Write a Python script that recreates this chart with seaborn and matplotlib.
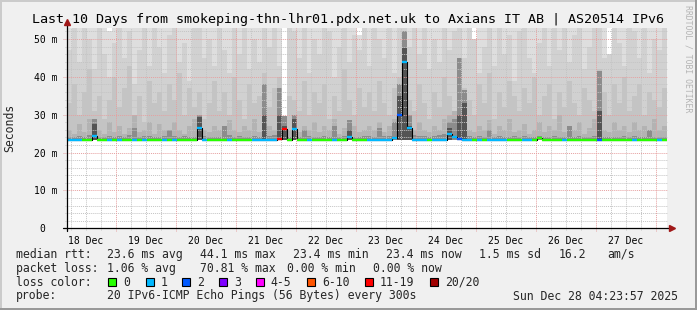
import numpy as np
import pandas as pd
import matplotlib
matplotlib.use("Agg")
import matplotlib.pyplot as plt
import matplotlib.dates as mdates
from matplotlib.patches import Rectangle
from matplotlib.lines import Line2D
import seaborn as sns

# ---------------- data ----------------
start_time = "2025-12-18 04:23:57"
bin_hours = 2          # 120 bins over 10 days
title = "Last 10 Days from smokeping-thn-lhr01.pdx.net.uk to Axians IT AB | AS20514 IPv6"

median_ms = [
    23.4, 23.4, 23.4, 23.4, 23.4, 24.3, 23.4, 23.4, 23.4, 23.4,
    23.4, 23.4, 23.4, 23.4, 23.4, 23.4, 23.4, 23.4, 23.4, 23.4,
    23.4, 23.4, 23.4, 23.4, 23.4, 23.4, 26.5, 23.4, 23.4, 23.4,
    23.4, 23.4, 23.4, 23.4, 23.4, 23.4, 23.4, 23.4, 23.4, 23.4,
    23.4, 23.4, 23.6, 26.2, 23.4, 26.2, 23.4, 23.4, 23.4, 23.4,
    23.4, 23.4, 23.4, 23.4, 23.4, 23.4, 24.0, 23.4, 23.4, 23.4,
    23.4, 23.4, 23.4, 23.4, 23.4, 23.8, 30.0, 43.8, 26.4, 23.4,
    23.4, 23.4, 23.4, 23.4, 23.4, 23.4, 24.9, 24.0, 23.6, 23.4,
    23.4, 23.4, 23.4, 23.4, 23.4, 23.4, 23.4, 23.4, 23.4, 23.4,
    23.4, 23.4, 23.4, 23.4, 23.8, 23.4, 23.4, 23.4, 23.4, 23.4,
    23.4, 23.4, 23.4, 23.4, 23.4, 23.4, 23.4, 23.4, 23.4, 23.4,
    23.4, 23.4, 23.4, 23.4, 23.4, 23.4, 23.4, 23.4, 23.4, 23.4,
]

loss_count = [
    1, 1, 1, 0, 0, 1, 0, 0, 1, 0,
    1, 0, 0, 1, 0, 1, 0, 0, 0, 1,
    0, 1, 0, 0, 0, 0, 1, 1, 0, 0,
    0, 0, 1, 0, 0, 0, 0, 1, 1, 1,
    1, 1, 12, 12, 0, 1, 0, 0, 1, 0,
    0, 0, 0, 1, 0, 0, 1, 0, 0, 0,
    1, 1, 1, 1, 1, 1, 2, 1, 1, 1,
    1, 1, 0, 1, 1, 1, 1, 1, 2, 1,
    1, 0, 1, 0, 1, 1, 1, 1, 0, 0,
    0, 1, 1, 0, 0, 0, 0, 0, 0, 1,
    0, 0, 0, 0, 0, 0, 2, 0, 0, 0,
    0, 0, 0, 1, 0, 0, 0, 0, 1, 0,
]

smoke_floor = 23.3

# upper edge of each smoke band (outer/lightest first)
smoke_max = [
    60, 60, 60, 60, 60, 60, 60, 60, 52, 60,
    60, 60, 60, 60, 60, 60, 60, 60, 60, 60,
    60, 60, 60, 60, 60, 60, 60, 60, 60, 60,
    60, 60, 60, 60, 60, 60, 60, 60, 60, 60,
    60, 60, 60, 29.6, 60, 60, 60, 60, 60, 60,
    60, 60, 60, 60, 60, 60, 60, 60, 51, 60,
    60, 60, 60, 60, 60, 60, 60, 60, 60, 60,
    60, 60, 60, 60, 60, 60, 60, 60, 60, 60,
    60, 50, 60, 60, 60, 60, 60, 60, 60, 60,
    60, 60, 60, 60, 60, 60, 60, 60, 60, 60,
    60, 60, 60, 60, 60, 60, 60, 60, 46, 60,
    60, 60, 60, 60, 60, 60, 60, 60, 60, 60,
]
smoke_p2 = [
    47, 53, 44, 60, 50, 42, 58, 46, 40, 49,
    60, 45, 52, 38, 47, 55, 43, 60, 48, 41,
    51, 60, 44, 49, 39, 56, 60, 45, 50, 43,
    60, 47, 41, 53, 46, 60, 42, 50, 44, 60,
    48, 55, 43, 29.6, 60, 52, 45, 60, 41, 50,
    46, 60, 52, 40, 48, 60, 44, 51, 47, 60,
    43, 60, 50, 45, 55, 41, 60, 60, 48, 53,
    46, 60, 42, 50, 44, 60, 47, 52, 60, 45,
    60, 50, 41, 48, 55, 43, 60, 46, 51, 39,
    52, 60, 45, 41, 49, 60, 43, 54, 47, 60,
    44, 51, 60, 42, 48, 56, 60, 45, 46, 60,
    49, 43, 60, 52, 45, 60, 41, 50, 47, 55,
]
smoke_p3 = [
    33, 38, 30, 36, 42, 31, 35, 29, 34, 40,
    32, 37, 43, 30, 35, 28, 39, 33, 36, 31,
    38, 34, 41, 30, 37, 32, 36, 29, 33, 39,
    31, 36, 30, 40, 34, 29, 38, 33, 35, 41,
    32, 37, 40, 29.6, 35, 34, 31, 39, 30, 36,
    33, 38, 29, 35, 31, 42, 34, 30, 37, 32,
    36, 31, 39, 33, 30, 37, 40, 50, 34, 31,
    38, 33, 29, 36, 32, 40, 35, 31, 45, 37,
    34, 30, 38, 33, 41, 29, 36, 32, 39, 35,
    31, 37, 33, 40, 30, 35, 38, 29, 36, 32,
    39, 33, 30, 37, 34, 31, 42, 36, 30, 38,
    33, 40, 31, 35, 38, 30, 36, 34, 32, 37,
]
smoke_p4 = [
    26, 25, 27.5, 25.5, 29, 27, 26, 25, 28, 25.5,
    27, 25, 26.5, 30, 25.5, 26, 28, 25, 27.5, 26,
    25.5, 28, 26, 25, 27, 29, 30, 26, 25.5, 27,
    26, 25, 28.5, 26, 25.5, 27, 26, 29, 25.5, 31,
    27, 26, 33, 29.6, 26, 30, 25.5, 27, 26, 28,
    25.5, 27, 26, 29, 25, 26.5, 28, 27, 25.5, 26,
    27, 26, 28, 25.5, 27, 29, 36, 50, 28, 26,
    28, 26, 25.5, 27, 26, 29, 30, 31, 45, 33,
    26, 25.5, 27, 26, 28.5, 25, 27, 26, 29, 25.5,
    26, 27.5, 25, 26, 28, 25.5, 27, 26, 30, 25.5,
    27, 26, 28, 25, 26.5, 29, 41.6, 26, 25.5, 28,
    26, 27, 25.5, 28, 26, 27, 25, 29, 26, 27,
]
smoke_p5 = [
    24.2, 24.0, 24.5, 24.1, 24.6, 29.0, 24.2, 24.0, 24.4, 24.1,
    24.3, 24.0, 24.6, 26.5, 24.0, 24.3, 24.5, 24.1, 24.0, 24.4,
    26.0, 24.3, 24.0, 24.5, 24.2, 24.0, 30.0, 24.4, 24.1, 24.0,
    24.2, 27.0, 24.6, 24.1, 24.3, 24.0, 24.2, 24.5, 24.1, 38.0,
    24.3, 24.6, 37.0, 29.6, 24.2, 30.0, 24.1, 26.0, 24.3, 24.2,
    24.0, 24.4, 24.1, 27.0, 24.0, 24.5, 28.5, 24.2, 24.0, 24.3,
    24.4, 24.2, 26.5, 24.3, 24.5, 28.0, 38.0, 52.0, 30.0, 24.6,
    24.3, 24.5, 24.1, 24.4, 24.6, 25.0, 28.0, 29.0, 45.0, 36.5,
    24.3, 24.0, 24.4, 24.2, 26.0, 24.1, 24.3, 24.0, 24.2, 24.4,
    24.1, 24.3, 24.0, 24.2, 24.5, 24.0, 24.2, 24.4, 24.1, 24.0,
    27.0, 24.1, 24.4, 24.0, 24.2, 24.5, 41.6, 24.2, 24.0, 24.1,
    24.2, 24.4, 24.0, 24.3, 24.1, 24.0, 26.0, 24.2, 24.1, 24.0,
]
smoke_p6 = [
    23.4, 23.4, 23.4, 23.4, 23.4, 27.5, 23.4, 23.4, 23.4, 23.4,
    23.4, 23.4, 23.4, 23.4, 23.4, 23.4, 23.4, 23.4, 23.4, 23.4,
    23.4, 23.4, 23.4, 23.4, 23.4, 23.4, 29.5, 23.4, 23.4, 23.4,
    23.4, 23.4, 23.4, 23.4, 23.4, 23.4, 23.4, 23.4, 23.4, 30.0,
    23.4, 23.4, 30.0, 27.0, 23.4, 29.0, 23.4, 23.4, 23.4, 23.4,
    23.4, 23.4, 23.4, 23.4, 23.4, 23.4, 26.0, 23.4, 23.4, 23.4,
    23.4, 23.4, 23.4, 23.4, 23.4, 23.4, 35.0, 47.6, 27.0, 23.4,
    23.4, 23.4, 23.4, 23.4, 23.4, 23.4, 26.5, 23.4, 30.0, 33.0,
    23.4, 23.4, 23.4, 23.4, 23.4, 23.4, 23.4, 23.4, 23.4, 23.4,
    23.4, 23.4, 23.4, 23.4, 23.4, 23.4, 23.4, 23.4, 23.4, 23.4,
    23.4, 23.4, 23.4, 23.4, 23.4, 23.4, 31.0, 23.4, 23.4, 23.4,
    23.4, 23.4, 23.4, 23.4, 23.4, 23.4, 23.4, 23.4, 23.4, 23.4,
]
smoke_shades = ["#dedede", "#d1d1d1", "#c4c4c4", "#b3b3b3", "#8c8c8c", "#545454"]

day_labels = ["18 Dec", "19 Dec", "20 Dec", "21 Dec", "22 Dec",
              "23 Dec", "24 Dec", "25 Dec", "26 Dec", "27 Dec"]
label_days = ["2025-12-18", "2025-12-19", "2025-12-20", "2025-12-21", "2025-12-22",
              "2025-12-23", "2025-12-24", "2025-12-25", "2025-12-26", "2025-12-27"]
ytick_vals = [0, 10, 20, 30, 40, 50]
ytick_labels = ["0  ", "10 m", "20 m", "30 m", "40 m", "50 m"]
y_top = 52.83

loss_names = ["0", "1", "2", "3", "4-5", "6-10", "11-19", "20/20"]
loss_colors = ["#26ff00", "#00b8ff", "#0059ff", "#7e00ff", "#ff00ff", "#ff5500", "#ff0000", "#a00000"]
loss_bounds = [0, 1, 2, 3, 5, 10, 19, 20]

stats_line1 = [("median rtt:", 16), ("23.6 ms avg", 107.3), ("44.1 ms max", 200),
               ("23.4 ms min", 292.7), ("23.4 ms now", 386), ("1.5 ms sd", 479.3),
               ("16.2", 558.3), ("am/s", 607)]
stats_line2 = [("packet loss:", 16), ("1.06 % avg", 107.3), ("70.81 % max", 200),
               ("0.00 % min", 286.7), ("0.00 % now", 372.7)]
probe_text = "20 IPv6-ICMP Echo Pings (56 Bytes) every 300s"
stamp_text = "Sun Dec 28 04:23:57 2025"
legend_box_x = [108, 145.7, 182.3, 219, 255.7, 307.3, 365, 430]

# ---------------- figure ----------------
sns.set_theme(style="white")
plt.rcParams['font.family'] = ['DejaVu Sans Mono', 'DejaVu Sans']

W, H = 697, 310
fig = plt.figure(figsize=(W / 100, H / 100), dpi=100, facecolor="#f0f0f0")

def fx(px):
    return px / W

def fy(py):
    return 1 - py / H

ax_left, ax_right, ax_top, ax_bot = 67, 667, 28.3, 228.3
ax = fig.add_axes([fx(ax_left), fy(ax_bot), (ax_right - ax_left) / W, (ax_bot - ax_top) / H])
ax.set_facecolor("white")

t0 = pd.Timestamp(start_time)
edges = pd.date_range(t0, periods=len(median_ms) + 1, freq=f"{bin_hours}h")
xe = mdates.date2num(edges)

def ext(a):
    a = np.asarray(a, dtype=float)
    return np.append(a, a[-1])

# smoke
for top, shade in zip([smoke_max, smoke_p2, smoke_p3, smoke_p4, smoke_p5, smoke_p6], smoke_shades):
    ax.fill_between(xe, smoke_floor, np.minimum(ext(top), 60), step="post",
                    color=shade, lw=0, zorder=1)

# grid (drawn on top of smoke like rrdtool)
dots = (0, (1, 1))
red_grid = "#e6a0a0"
grey_grid = "#c4c4c4"
xt = ax.get_xaxis_transform()
yt = ax.get_yaxis_transform()
t_end = t0 + pd.Timedelta(days=10)
six_h = pd.date_range(t0.ceil("6h"), t_end, freq="6h")
for t in six_h:
    xv = mdates.date2num(t)
    if t.hour == 0:
        ax.plot([xv, xv], [-3 / 200, 1], transform=xt, color=red_grid, lw=0.7,
                ls=dots, zorder=2.6, clip_on=False)
    else:
        ax.plot([xv, xv], [-2 / 200, 1], transform=xt, color=grey_grid, lw=0.7,
                ls=dots, zorder=2.5, clip_on=False)
for v in range(2, 53, 2):
    if v % 10 == 0:
        ax.plot([-4 / 600, 1], [v, v], transform=yt, color=red_grid, lw=0.7,
                ls=dots, zorder=2.6, clip_on=False)
    else:
        ax.plot([-2 / 600, 1], [v, v], transform=yt, color=grey_grid, lw=0.7,
                ls=dots, zorder=2.5, clip_on=False)

# median line: thin black step + loss-coloured segments
med_df = pd.DataFrame({"t": xe, "median": ext(median_ms)})
sns.lineplot(data=med_df, x="t", y="median", drawstyle="steps-post", color="black",
             lw=0.8, ax=ax, zorder=3, estimator=None, sort=False)

def loss_col(n):
    for b, c in zip(loss_bounds, loss_colors):
        if n <= b:
            return c
    return loss_colors[-1]

seg_cols = [loss_col(n) for n in loss_count]
ax.hlines(median_ms, xe[:-1], xe[1:], colors=seg_cols, lw=1.7, zorder=3.5,
          capstyle="butt")

ax.set_xlim(xe[0], mdates.date2num(t_end))
ax.set_ylim(0, y_top)
for s in ax.spines.values():
    s.set_visible(False)

# ticks
noon_x = [mdates.date2num(pd.Timestamp(d) + pd.Timedelta(hours=12)) for d in label_days]
ax.set_xticks(noon_x)
ax.set_xticklabels(day_labels, fontsize=7, color="black")
ax.set_yticks(ytick_vals)
ax.set_yticklabels(ytick_labels, fontsize=7, color="black")
ax.tick_params(axis="x", length=0, pad=5.2)
ax.tick_params(axis="y", length=0, pad=6.5)
ax.set_xlabel("")
ax.set_ylabel("")
ax.grid(False)

# axis lines with arrows
ax.add_line(Line2D([-4 / 600, 603 / 600], [0, 0], transform=ax.transAxes, color="black",
                   lw=0.9, clip_on=False, zorder=5))
ax.add_line(Line2D([0, 0], [-3 / 200, 1 + 5 / 200], transform=ax.transAxes, color="black",
                   lw=0.9, clip_on=False, zorder=5))
ax.plot([605 / 600], [0], marker=">", ms=4, color="#a01818", transform=ax.transAxes,
        clip_on=False, zorder=6, mec="#a01818")
ax.plot([0], [1 + 6 / 200], marker="^", ms=4, color="#a01818", transform=ax.transAxes,
        clip_on=False, zorder=6, mec="#a01818")

# titles / labels
fig.text(fx(347.5), fy(19), title, ha="center", va="center", fontsize=9.6, color="black")
fig.text(fx(10), fy(128), "Seconds", rotation=90, ha="center", va="center", fontsize=8.3)
fig.text(fx(688), fy(5), "RRDTOOL / TOBI OETIKER", rotation=270, ha="center", va="top",
         fontsize=5.9, color="#b4b4b4")

# stats lines
fs = 8.3
for txt, x in stats_line1:
    fig.text(fx(x), fy(257.8), txt, ha="left", va="baseline", fontsize=fs)
for txt, x in stats_line2:
    fig.text(fx(x), fy(271.8), txt, ha="left", va="baseline", fontsize=fs)
fig.text(fx(16), fy(285.8), "loss color:", ha="left", va="baseline", fontsize=fs)
for bx, name, col in zip(legend_box_x, loss_names, loss_colors):
    fig.add_artist(Rectangle((fx(bx), fy(285.8)), 8 / W, 8 / H, transform=fig.transFigure,
                             facecolor=col, edgecolor="black", lw=0.8))
    fig.text(fx(bx + 15), fy(285.8), name, ha="left", va="baseline", fontsize=fs)
fig.text(fx(16), fy(299.5), "probe:", ha="left", va="baseline", fontsize=fs)
fig.text(fx(107.3), fy(299.5), probe_text, ha="left", va="baseline", fontsize=fs)
fig.text(fx(513.3), fy(299.5), stamp_text, ha="left", va="baseline", fontsize=fs)

# 3D frame
fig.add_artist(Rectangle((0, 0), fx(2), 1, transform=fig.transFigure, color="#cbcbcb", lw=0))
fig.add_artist(Rectangle((0, fy(2)), 1, 2 / H, transform=fig.transFigure, color="#cbcbcb", lw=0))
fig.add_artist(Rectangle((fx(W - 2), 0), 2 / W, 1, transform=fig.transFigure, color="#999999", lw=0))
fig.add_artist(Rectangle((0, 0), 1, 2 / H, transform=fig.transFigure, color="#999999", lw=0))

fig.savefig("out.png", dpi=100, facecolor=fig.get_facecolor())
